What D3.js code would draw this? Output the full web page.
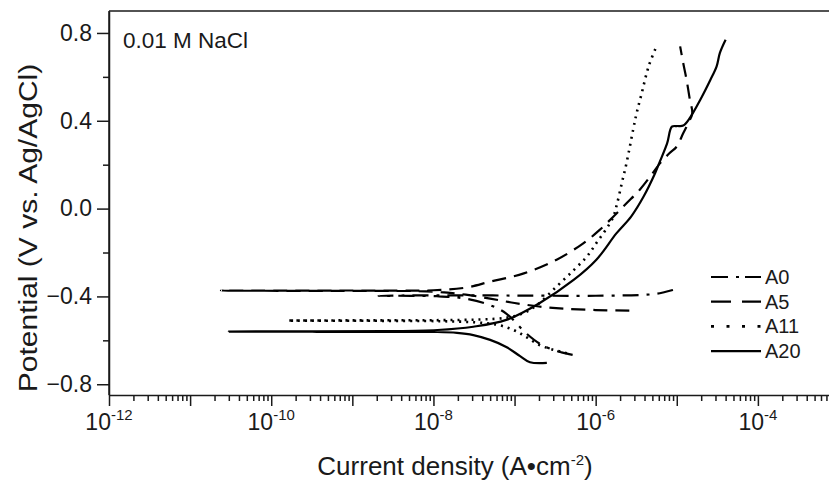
<!DOCTYPE html>
<html>
<head>
<meta charset="utf-8">
<script src="https://cdn.jsdelivr.net/npm/d3@7"></script>
<style>
  body { margin: 0; background: #fff; }
  svg { display: block; font-family: "Liberation Sans", Arial, sans-serif; }
</style>
</head>
<body>
<svg id="chart"></svg>
<script>
// polarization curves, [current density A/cm2, potential V]
// each curve: cathodic end -> spike at Ecorr -> anodic branch
const a0 = [
  [5.2e-7, -0.666], [3.8e-7, -0.655], [3.0e-7, -0.644], [2.0e-7, -0.613], [1.4e-7, -0.569],
  [7.9e-8, -0.478], [5.0e-8, -0.440], [2.5e-8, -0.410], [1.1e-8, -0.399],
  [2.1e-9, -0.397], [1.1e-8, -0.395], [1.0e-7, -0.396], [1.0e-6, -0.397],
  [4.7e-6, -0.391], [6.8e-6, -0.382], [8.9e-6, -0.371], [1.05e-5, -0.363]
];
const a5 = [
  [2.6e-6, -0.465], [1.0e-6, -0.462], [4.0e-7, -0.456], [2.0e-7, -0.446],
  [1.0e-7, -0.430], [5.0e-8, -0.410], [2.5e-8, -0.392], [1.0e-8, -0.378],
  [1.0e-9, -0.375], [2.4e-11, -0.374], [1.0e-9, -0.373], [1.0e-8, -0.372],
  [2.5e-8, -0.360], [5.0e-8, -0.333], [1.3e-7, -0.295], [3.3e-7, -0.233],
  [7.1e-7, -0.157], [1.12e-6, -0.097], [1.66e-6, -0.036], [2.4e-6, 0.024],
  [3.5e-6, 0.086], [4.7e-6, 0.146], [6.2e-6, 0.206], [8.1e-6, 0.252],
  [1.0e-5, 0.283], [1.2e-5, 0.343], [1.38e-5, 0.388], [1.55e-5, 0.434],
  [1.45e-5, 0.496], [1.32e-5, 0.587], [1.2e-5, 0.663], [1.1e-5, 0.739]
];
const a11 = [
  [4.4e-7, -0.660], [3.8e-7, -0.652], [2.8e-7, -0.640], [2.0e-7, -0.620],
  [1.4e-7, -0.585], [1.0e-7, -0.555], [6.3e-8, -0.530], [3.2e-8, -0.518],
  [1.26e-8, -0.513], [1.6e-9, -0.511], [1.6e-10, -0.510], [1.6e-9, -0.509],
  [1.26e-8, -0.508], [3.7e-8, -0.505], [7.9e-8, -0.497], [1.3e-7, -0.476],
  [2.0e-7, -0.432], [3.3e-7, -0.355], [5.4e-7, -0.279], [7.8e-7, -0.218],
  [1.02e-6, -0.157], [1.6e-6, -0.048], [1.8e-6, 0.010], [2.1e-6, 0.116],
  [2.4e-6, 0.207], [2.9e-6, 0.360], [3.2e-6, 0.435], [3.7e-6, 0.526],
  [4.5e-6, 0.648], [5.6e-6, 0.738]
];
const a20 = [
  [2.5e-7, -0.703], [1.55e-7, -0.700], [1.17e-7, -0.672], [7.9e-8, -0.630],
  [5.0e-8, -0.598], [3.1e-8, -0.576], [1.95e-8, -0.566], [1.12e-8, -0.562],
  [2.5e-9, -0.562], [3.2e-10, -0.561], [3.0e-11, -0.560], [3.2e-10, -0.559],
  [2.5e-9, -0.558], [1.12e-8, -0.553], [3.1e-8, -0.538], [7.9e-8, -0.507],
  [2.0e-7, -0.432], [5.4e-7, -0.324], [1.02e-6, -0.233], [1.8e-6, -0.113],
  [2.75e-6, -0.035], [3.9e-6, 0.055], [5.4e-6, 0.161], [6.2e-6, 0.215],
  [7.6e-6, 0.297], [8.7e-6, 0.373], [1.0e-5, 0.376], [1.2e-5, 0.378],
  [1.45e-5, 0.413], [1.95e-5, 0.496], [2.6e-5, 0.587], [3.1e-5, 0.648],
  [3.4e-5, 0.709], [4.0e-5, 0.769]
];

const seriesNames = ['A0', 'A5', 'A11', 'A20'];
const seriesData = [a0, a5, a11, a20];
const dashes = ['16,8,3,8', '14,8', '2,5', null];
const legendDashes = ['17,8,3,6', '20,11', '3,12.5', null];

const xMajor = [1e-12, 1e-11, 1e-10, 1e-9, 1e-8, 1e-7, 1e-6, 1e-5, 1e-4, 1e-3];
const xLabelExp = [-12, -10, -8, -6, -4];
const yMajor = [-0.8, -0.4, 0.0, 0.4, 0.8];
const yMinor = [-0.6, -0.2, 0.2, 0.6];

const width = 829, height = 483;
const plotLeft = 109, plotTop = 11, plotRight = 839, plotBottom = 395;

const svg = d3.select('#chart')
  .attr('width', width)
  .attr('height', height);

const x = d3.scaleLog().domain([1e-12, 1e-3]).range([plotLeft, plotRight]);
const y = d3.scaleLinear().domain([-0.849, 0.9]).range([plotBottom, plotTop]);

// minor x ticks 2..9 in each decade
const xMinor = [];
xMajor.slice(0, -1).forEach(d => {
  for (let k = 2; k <= 9; k++) xMinor.push(d * k);
});

const axisColor = '#1a1a1a';
const textColor = '#1a1a1a';

svg.append('g')
  .attr('transform', `translate(0,${plotBottom})`)
  .call(d3.axisBottom(x).tickValues(xMinor).tickSize(6).tickFormat(''))
  .call(g => g.select('.domain').remove());
svg.append('g')
  .attr('transform', `translate(0,${plotBottom})`)
  .call(d3.axisBottom(x).tickValues(xMajor).tickSize(11).tickSizeOuter(0).tickFormat(''));

svg.append('g')
  .attr('transform', `translate(${plotLeft},0)`)
  .call(d3.axisLeft(y).tickValues(yMinor).tickSize(6).tickFormat(''))
  .call(g => g.select('.domain').remove());
svg.append('g')
  .attr('transform', `translate(${plotLeft},0)`)
  .call(d3.axisLeft(y).tickValues(yMajor).tickSize(12).tickSizeOuter(0)
    .tickFormat(d3.format('.1f')))
  .call(g => g.selectAll('text')
    .attr('x', -17)
    .style('font-size', '23px')
    .style('font-family', '"Liberation Sans", Arial, sans-serif')
    .attr('fill', textColor));

svg.selectAll('.domain, .tick line')
  .attr('stroke', axisColor)
  .attr('stroke-width', 1.5);

// frame top / left
svg.append('line')
  .attr('x1', plotLeft).attr('x2', plotRight).attr('y1', plotTop).attr('y2', plotTop)
  .attr('stroke', axisColor).attr('stroke-width', 1.5);
svg.append('line')
  .attr('x1', plotLeft).attr('x2', plotLeft).attr('y1', plotTop).attr('y2', plotBottom)
  .attr('stroke', axisColor).attr('stroke-width', 1.5);

// x tick labels with superscript exponent
const xl = svg.append('g');
xLabelExp.forEach(e => {
  const t = xl.append('text')
    .attr('x', x(Math.pow(10, e)))
    .attr('y', 430)
    .attr('text-anchor', 'middle')
    .attr('fill', textColor)
    .style('font-size', '23px');
  t.append('tspan').text('10');
  t.append('tspan').attr('dy', -10).style('font-size', '15px').text(String(e));
});

// axis titles
const xt = svg.append('text')
  .attr('x', 455)
  .attr('y', 475)
  .attr('text-anchor', 'middle')
  .attr('fill', textColor)
  .style('font-size', '26px');
xt.append('tspan').text('Current density (A\u2022cm');
xt.append('tspan').attr('dy', -10).style('font-size', '15px').text('-2');
xt.append('tspan').attr('dy', 10).text(')');

// y title is a bit squeezed sideways in the original
svg.append('text')
  .attr('transform', 'translate(37,228) scale(0.88,1) rotate(-90)')
  .attr('text-anchor', 'middle')
  .attr('fill', textColor)
  .style('font-size', '30px')
  .text('Potential (V vs. Ag/AgCl)');

svg.append('text')
  .attr('x', 123)
  .attr('y', 48)
  .attr('fill', textColor)
  .style('font-size', '22.5px')
  .text('0.01 M NaCl');

// curves
const line = d3.line()
  .x(d => x(d[0]))
  .y(d => y(d[1]))
  .curve(d3.curveCatmullRom.alpha(0.5));

svg.append('g')
  .selectAll('path')
  .data(seriesData)
  .enter()
  .append('path')
    .attr('d', line)
    .attr('fill', 'none')
    .attr('stroke', '#000')
    .attr('stroke-width', (d, i) => i === 2 ? 2.6 : 2.2)
    .attr('stroke-linejoin', 'round')
    .attr('stroke-dasharray', (d, i) => dashes[i]);

// legend
const legend = svg.append('g');
seriesNames.forEach((name, i) => {
  const ly = 277 + i * 24.7;
  legend.append('line')
    .attr('x1', 711).attr('x2', 761)
    .attr('y1', ly).attr('y2', ly)
    .attr('stroke', '#000')
    .attr('stroke-width', i === 2 ? 2.6 : 2.2)
    .attr('stroke-dasharray', legendDashes[i]);
  legend.append('text')
    .attr('x', 765)
    .attr('y', ly + 7)
    .attr('fill', textColor)
    .style('font-size', '20px')
    .text(name);
});
</script>
</body>
</html>
